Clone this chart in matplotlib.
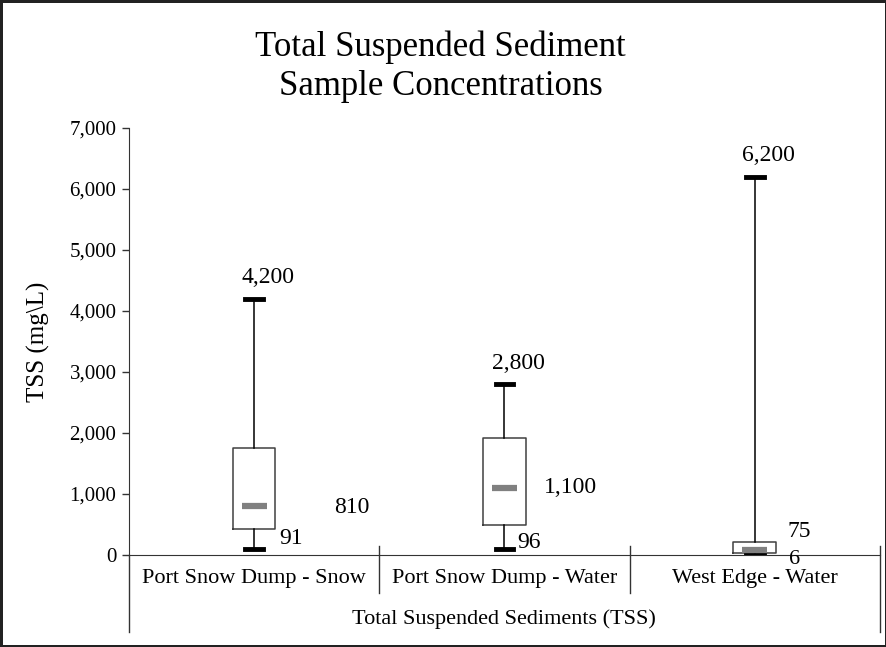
import matplotlib
matplotlib.use("Agg")
import matplotlib.pyplot as plt

plt.rcParams['font.family'] = ['Liberation Serif', 'DejaVu Serif']

categories = ["Port Snow Dump - Snow", "Port Snow Dump - Water", "West Edge - Water"]
mins = [91, 96, 6]
q1s = [425, 490, 35]
medians = [810, 1100, 75]
q3s = [1750, 1910, 210]
maxs = [4200, 2800, 6200]
yticks = [0, 1000, 2000, 3000, 4000, 5000, 6000, 7000]
group_label = "Total Suspended Sediments (TSS)"

fig = plt.figure(figsize=(8.87, 6.47), dpi=100, linewidth=2.5, edgecolor='#222222')
ax = fig.add_axes([0.1454, 0.1422, 0.8466, 0.66])

stats = []
for i, c in enumerate(categories):
    stats.append(dict(label=c, whislo=mins[i], q1=q1s[i], med=medians[i],
                      q3=q3s[i], whishi=maxs[i], fliers=[]))
pos = list(range(1, len(categories) + 1))
ax.bxp(stats, positions=pos, widths=0.17, capwidths=0.07, showfliers=False,
       boxprops=dict(color='#404040', linewidth=1.1),
       whiskerprops=dict(color='black', linewidth=1.1),
       capprops=dict(color='black', linewidth=3.5),
       medianprops=dict(linewidth=0))
# median bars (gray, Excel style)
ax.hlines(medians, [p - 0.05 for p in pos], [p + 0.05 for p in pos],
          colors='#808080', linewidth=4.5, zorder=3)

ax.set_xlim(0.5, 3.5)
ax.set_ylim(0, 7000)
ax.set_yticks(yticks)
ax.set_yticklabels([f"{v:,}" for v in yticks], fontsize=15)
ax.tick_params(axis='y', direction='out', length=5, width=1, color='#333333', pad=4)
ax.set_xticks([])
for s in ['top', 'right']:
    ax.spines[s].set_visible(False)
ax.spines['left'].set_color('#333333')
ax.spines['bottom'].set_color('#333333')
ax.set_ylabel("TSS (mg\\L)", fontsize=18, labelpad=14)

# category axis lines
tr = ax.get_xaxis_transform()
ax.plot([0.5, 0.5], [0, -0.18], transform=tr, color='#333333', lw=1, clip_on=False)
ax.plot([3.5, 3.5], [0.02, -0.18], transform=tr, color='#333333', lw=1, clip_on=False)
for d in [1.5, 2.5]:
    ax.plot([d, d], [0.02, -0.089], transform=tr, color='#333333', lw=1, clip_on=False)
for p, c in zip(pos, categories):
    ax.text(p, -0.054, c, transform=tr, ha='center', va='center', fontsize=16)
ax.text(2.0, -0.15, group_label, transform=tr, ha='center', va='center', fontsize=16)

# data labels
lab_fs = 17
for i, p in enumerate(pos):
    ax.annotate(f"{maxs[i]:,}", (p, maxs[i]), xytext=(14, 21), textcoords='offset pixels',
                ha='center', va='center', fontsize=lab_fs)
med_off = [(98, -2), (66, 0), (45, 19)]
min_off = [(37, 11), (25, 7), (40, -5)]
for i, p in enumerate(pos):
    ax.annotate(f"{medians[i]:,}", (p, medians[i]), xytext=med_off[i], textcoords='offset pixels',
                ha='center', va='center', fontsize=lab_fs)
    ax.annotate(f"{mins[i]:,}", (p, mins[i]), xytext=min_off[i], textcoords='offset pixels',
                ha='center', va='center', fontsize=lab_fs if i < 2 else 16)

fig.text(0.497, 0.897, "Total Suspended Sediment\nSample Concentrations",
         ha='center', va='center', fontsize=25, linespacing=1.25)

fig.savefig("out.png", dpi=100, edgecolor=fig.get_edgecolor())
